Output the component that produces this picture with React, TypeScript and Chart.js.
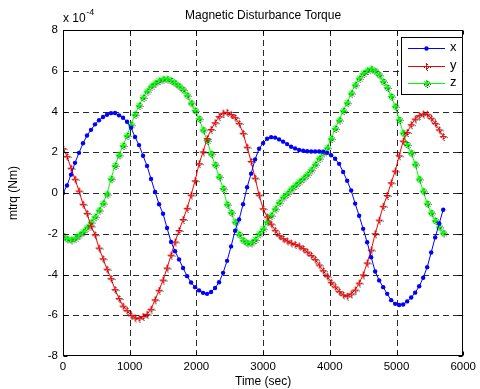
import React, { useEffect, useRef } from "react";
import { Chart, registerables } from "chart.js";

Chart.register(...registerables);

// ---- data (torque in units of 1e-4 Nm) ----
const TIME_SEC = [
  0, 60, 120, 180, 240, 300, 360, 420, 480, 540,
  600, 660, 720, 780, 840, 900, 960, 1020, 1080, 1140,
  1200, 1260, 1320, 1380, 1440, 1500, 1560, 1620, 1680, 1740,
  1800, 1860, 1920, 1980, 2040, 2100, 2160, 2220, 2280, 2340,
  2400, 2460, 2520, 2580, 2640, 2700, 2760, 2820, 2880, 2940,
  3000, 3060, 3120, 3180, 3240, 3300, 3360, 3420, 3480, 3540,
  3600, 3660, 3720, 3780, 3840, 3900, 3960, 4020, 4080, 4140,
  4200, 4260, 4320, 4380, 4440, 4500, 4560, 4620, 4680, 4740,
  4800, 4860, 4920, 4980, 5040, 5100, 5160, 5220, 5280, 5340,
  5400, 5460, 5520, 5580, 5640, 5700,
];

const TORQUE_X = [
  0.0, 0.37, 0.9, 1.48, 1.97, 2.44, 2.82, 3.1, 3.37, 3.57,
  3.73, 3.84, 3.92, 3.93, 3.81, 3.69, 3.5, 3.2, 2.75, 2.35,
  1.83, 1.33, 0.69, 0.05, -0.55, -1.02, -1.72, -2.4, -2.86, -3.26,
  -3.68, -4.08, -4.39, -4.62, -4.78, -4.9, -4.95, -4.86, -4.66, -4.38,
  -3.92, -3.33, -2.62, -1.85, -1.3, -0.55, 0.28, 0.95, 1.65, 2.17,
  2.45, 2.66, 2.74, 2.72, 2.63, 2.52, 2.4, 2.27, 2.19, 2.11,
  2.07, 2.05, 2.04, 2.04, 2.04, 2.03, 1.97, 1.85, 1.68, 1.43,
  1.03, 0.6, 0.12, -0.52, -1.12, -1.76, -2.42, -3.15, -3.85, -4.29,
  -4.62, -4.95, -5.26, -5.44, -5.5, -5.47, -5.32, -5.13, -4.89, -4.58,
  -4.16, -3.64, -2.92, -2.18, -1.5, -0.82,
];

const TORQUE_Y = [
  2.18, 1.8, 1.22, 0.68, 0.1, -0.55, -1.0, -1.62, -2.05, -2.7,
  -3.23, -3.74, -4.2, -4.74, -5.18, -5.55, -5.77, -6.0, -6.13, -6.15,
  -6.06, -5.95, -5.7, -5.24, -4.77, -4.27, -3.68, -3.05, -2.4, -1.84,
  -1.3, -0.75, -0.1, 0.6, 1.44, 2.02, 2.67, 3.12, 3.45, 3.75,
  3.92, 3.96, 3.85, 3.7, 3.42, 2.93, 2.25, 1.55, 0.73, -0.1,
  -0.77, -1.17, -1.52, -1.83, -2.09, -2.24, -2.35, -2.45, -2.52, -2.6,
  -2.73, -2.89, -3.06, -3.26, -3.53, -3.81, -4.08, -4.38, -4.61, -4.84,
  -5.0, -5.06, -4.95, -4.76, -4.42, -4.02, -3.43, -2.8, -2.0, -1.33,
  -0.65, -0.12, 0.5, 1.08, 1.83, 2.55, 2.97, 3.35, 3.63, 3.8,
  3.88, 3.87, 3.67, 3.42, 3.1, 2.77,
];

const TORQUE_Z = [
  -2.1, -2.25, -2.3, -2.22, -2.06, -1.9, -1.68, -1.43, -1.16, -0.84,
  -0.5, -0.05, 0.7, 1.35, 1.87, 2.33, 2.82, 3.35, 3.86, 4.3,
  4.69, 5.0, 5.24, 5.4, 5.52, 5.59, 5.6, 5.53, 5.4, 5.25,
  5.07, 4.8, 4.42, 4.06, 3.65, 3.1, 2.58, 1.93, 1.39, 0.8,
  0.23, -0.55, -0.95, -1.42, -2.03, -2.31, -2.45, -2.45, -2.28, -2.0,
  -1.75, -1.41, -1.09, -0.77, -0.46, -0.2, -0.02, 0.2, 0.38, 0.55,
  0.73, 0.92, 1.14, 1.41, 1.71, 1.97, 2.22, 2.67, 3.17, 3.58,
  4.04, 4.43, 4.9, 5.31, 5.63, 5.87, 6.02, 6.09, 5.99, 5.8,
  5.48, 5.18, 4.75, 4.26, 3.6, 2.95, 2.38, 1.97, 1.42, 0.69,
  0.1, -0.52, -0.97, -1.35, -1.66, -1.96,
];

const SERIES_NAMES = ["x", "y", "z"];
const X_TICKS = [0, 1000, 2000, 3000, 4000, 5000, 6000];
const Y_TICKS = [-8, -6, -4, -2, 0, 2, 4, 6, 8];
const TITLE = "Magnetic Disturbance Torque";
const X_LABEL = "Time (sec)";
const Y_LABEL = "mtrq (Nm)";
const EXP_BASE = "x 10";
const EXP_POWER = "-4";

const FONT = "'Liberation Sans', Arial, sans-serif";

function makeMarker(kind: "plus" | "star", color: string): HTMLCanvasElement {
  const size = 11;
  const c = document.createElement("canvas");
  c.width = size;
  c.height = size;
  const ctx = c.getContext("2d")!;
  const cx = 5.5;
  const cy = 5.5;
  const r = 3.5;
  const shape = (ox: number, oy: number, col: string) => {
    ctx.strokeStyle = col;
    ctx.lineWidth = 1;
    ctx.beginPath();
    ctx.moveTo(cx - r + ox, cy + oy);
    ctx.lineTo(cx + r + ox, cy + oy);
    ctx.moveTo(cx + ox, cy - r + oy);
    ctx.lineTo(cx + ox, cy + r + oy);
    if (kind === "star") {
      const d = r * 0.72;
      ctx.moveTo(cx - d + ox, cy - d + oy);
      ctx.lineTo(cx + d + ox, cy + d + oy);
      ctx.moveTo(cx - d + ox, cy + d + oy);
      ctx.lineTo(cx + d + ox, cy - d + oy);
    }
    ctx.stroke();
  };
  ctx.setLineDash([1, 1]);
  shape(1, 1, "rgba(0,0,0,0.8)");
  ctx.setLineDash([]);
  shape(0, 0, color);
  return c;
}

const gridPlugin = {
  id: "matlabGrid",
  beforeDatasetsDraw(chart: any) {
    const { ctx, chartArea: a, scales } = chart;
    ctx.save();
    ctx.strokeStyle = "#2a2a2a";
    ctx.lineWidth = 1;
    ctx.setLineDash([6, 4]);
    X_TICKS.forEach((v) => {
      const px = Math.round(scales.x.getPixelForValue(v)) + 0.5;
      if (px <= a.left + 1 || px >= a.right - 1) return;
      ctx.beginPath();
      ctx.moveTo(px, a.bottom);
      ctx.lineTo(px, a.top);
      ctx.stroke();
    });
    Y_TICKS.forEach((v) => {
      const py = Math.round(scales.y.getPixelForValue(v)) + 0.5;
      if (py <= a.top + 1 || py >= a.bottom - 1) return;
      ctx.beginPath();
      ctx.moveTo(a.left, py);
      ctx.lineTo(a.right, py);
      ctx.stroke();
    });
    ctx.restore();
  },
};

const decorPlugin = {
  id: "matlabDecor",
  afterDraw(chart: any) {
    const { ctx, chartArea: a, scales } = chart;
    const L = Math.round(a.left) + 0.5;
    const R = Math.round(a.right) - 0.5;
    const T = Math.round(a.top) + 0.5;
    const B = Math.round(a.bottom) - 0.5;
    ctx.save();
    // box
    ctx.strokeStyle = "#000";
    ctx.lineWidth = 1;
    ctx.setLineDash([]);
    ctx.strokeRect(L, T, R - L, B - T);
    // inward ticks
    const tl = 4;
    ctx.beginPath();
    X_TICKS.forEach((v) => {
      const px = Math.round(scales.x.getPixelForValue(v)) + 0.5;
      ctx.moveTo(px, B);
      ctx.lineTo(px, B - tl);
      ctx.moveTo(px, T);
      ctx.lineTo(px, T + tl);
    });
    Y_TICKS.forEach((v) => {
      const py = Math.round(scales.y.getPixelForValue(v)) + 0.5;
      ctx.moveTo(L, py);
      ctx.lineTo(L + tl, py);
      ctx.moveTo(R, py);
      ctx.lineTo(R - tl, py);
    });
    ctx.stroke();

    // texts
    ctx.fillStyle = "#000";
    ctx.textBaseline = "middle";
    ctx.textAlign = "center";
    ctx.font = `12px ${FONT}`;
    ctx.fillText(TITLE, (a.left + a.right) / 2, 15.5);
    ctx.fillText(X_LABEL, (a.left + a.right) / 2, 381.5);
    ctx.save();
    ctx.translate(13.5, (a.top + a.bottom) / 2);
    ctx.rotate(-Math.PI / 2);
    ctx.fillText(Y_LABEL, 0, 0);
    ctx.restore();
    // exponent
    ctx.textAlign = "left";
    ctx.font = `12px ${FONT}`;
    ctx.fillText(EXP_BASE, a.left, 18.5);
    const w = ctx.measureText(EXP_BASE).width;
    ctx.font = `9px ${FONT}`;
    ctx.fillText(EXP_POWER, a.left + w + 0.5, 13);

    // legend
    const lx = 401.5;
    const ly = 37.5;
    const lw = 61;
    const lh = 57;
    ctx.fillStyle = "#fff";
    ctx.fillRect(lx, ly, lw, lh);
    ctx.strokeStyle = "#000";
    ctx.strokeRect(lx, ly, lw, lh);
    const rows = [48, 65.5, 83];
    chart.data.datasets.forEach((ds: any, i: number) => {
      const y = Math.round(rows[i]) + 0.5;
      ctx.strokeStyle = ds.borderColor;
      ctx.lineWidth = 1;
      ctx.beginPath();
      ctx.moveTo(408, y);
      ctx.lineTo(445, y);
      ctx.stroke();
      const mx = 426.5;
      if (ds.pointStyle === "circle") {
        ctx.fillStyle = ds.borderColor;
        ctx.beginPath();
        ctx.arc(mx, y, ds.pointRadius, 0, Math.PI * 2);
        ctx.fill();
      } else {
        const img = ds.pointStyle as HTMLCanvasElement;
        ctx.drawImage(img, Math.round(mx - img.width / 2), Math.round(y - img.height / 2));
      }
      ctx.fillStyle = "#000";
      ctx.font = `13px ${FONT}`;
      ctx.textAlign = "left";
      ctx.textBaseline = "middle";
      ctx.fillText(ds.label, 450, y - 1);
    });
    ctx.restore();
  },
};

export default function App() {
  const canvasRef = useRef<HTMLCanvasElement | null>(null);

  useEffect(() => {
    document.body.style.margin = "0";
    const canvas = canvasRef.current!;
    const toPoints = (vals: number[]) => vals.map((v, i) => ({ x: TIME_SEC[i], y: v }));
    const plusMarker = makeMarker("plus", "#ff0000");
    const starMarker = makeMarker("star", "#00ff00");

    const chart = new Chart(canvas, {
      type: "line",
      data: {
        datasets: [
          {
            label: SERIES_NAMES[0],
            data: toPoints(TORQUE_X),
            borderColor: "#0000ff",
            backgroundColor: "#0000ff",
            borderWidth: 1,
            pointStyle: "circle",
            pointRadius: 2.2,
            pointBorderWidth: 0,
            pointBackgroundColor: "#0000ff",
            tension: 0,
          },
          {
            label: SERIES_NAMES[1],
            data: toPoints(TORQUE_Y),
            borderColor: "#ff0000",
            backgroundColor: "#ff0000",
            borderWidth: 1,
            pointStyle: plusMarker as any,
            pointRadius: 4,
            tension: 0,
          },
          {
            label: SERIES_NAMES[2],
            data: toPoints(TORQUE_Z),
            borderColor: "#00ff00",
            backgroundColor: "#00ff00",
            borderWidth: 1,
            pointStyle: starMarker as any,
            pointRadius: 4,
            tension: 0,
          },
        ],
      },
      options: {
        animation: false,
        responsive: false,
        maintainAspectRatio: false,
        events: [],
        layout: { padding: { left: 0, right: 13, top: 30, bottom: 0 } },
        plugins: {
          legend: { display: false },
          tooltip: { enabled: false },
          title: { display: false },
        },
        scales: {
          x: {
            type: "linear",
            min: 0,
            max: 6000,
            afterFit: (s: any) => {
              s.height = 33;
            },
            afterBuildTicks: (s: any) => {
              s.ticks = X_TICKS.map((v) => ({ value: v }));
            },
            ticks: {
              color: "#000",
              font: { family: FONT, size: 11.5 },
              padding: 4,
              maxRotation: 0,
              autoSkip: false,
              callback: (v: any) => String(v),
            },
            grid: { display: false, drawTicks: false },
            border: { display: false },
          },
          y: {
            type: "linear",
            min: -8,
            max: 8,
            afterFit: (s: any) => {
              s.width = 63;
            },
            afterBuildTicks: (s: any) => {
              s.ticks = Y_TICKS.map((v) => ({ value: v }));
            },
            ticks: {
              color: "#000",
              font: { family: FONT, size: 11.5 },
              padding: 5,
              autoSkip: false,
              callback: (v: any) => String(v),
            },
            grid: { display: false, drawTicks: false },
            border: { display: false },
          },
        },
      },
      plugins: [gridPlugin, decorPlugin],
    });

    return () => chart.destroy();
  }, []);

  return (
    <div style={{ position: "absolute", left: 0, top: 0, width: 480, height: 389, background: "#fff" }}>
      <canvas ref={canvasRef} width={480} height={389} style={{ width: 480, height: 389, display: "block" }} />
    </div>
  );
}
